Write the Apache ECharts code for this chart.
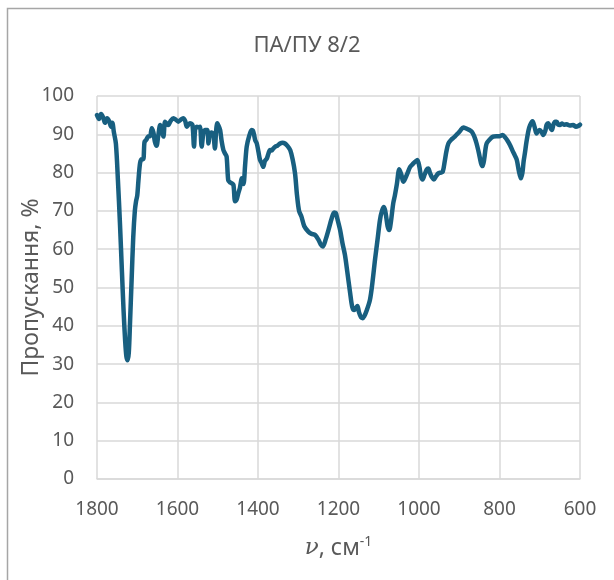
<!DOCTYPE html>
<html>
<head>
<meta charset="utf-8">
<script src="https://cdn.jsdelivr.net/npm/echarts@6/dist/echarts.min.js"></script>
<style>
  html, body { margin: 0; padding: 0; background: #fff; }
  #chart { width: 614px; height: 580px; }
</style>
</head>
<body>
<div id="chart"></div>
<script>
// IR spectrum of the ПА/ПУ 8/2 blend: wavenumber (cm^-1) and transmittance (%)
const wavenumber = [
  1800, 1795, 1790, 1785, 1780, 1775, 1770, 1765, 1762, 1758, 1753, 1748, 1743, 1738, 1734, 1730,
  1727, 1724, 1721, 1718, 1714, 1710, 1706, 1703, 1700, 1697, 1693, 1689, 1685, 1682, 1678, 1672,
  1668, 1664, 1660, 1656, 1652, 1648, 1643, 1639, 1635, 1631, 1627, 1623, 1617, 1610, 1604, 1598,
  1592, 1586, 1581, 1577, 1573, 1569, 1563, 1559, 1556, 1552, 1547, 1544, 1540, 1536, 1532, 1526,
  1523, 1520, 1515, 1511, 1507, 1504, 1501, 1497, 1494, 1490, 1486, 1482, 1478, 1474, 1470, 1465,
  1461, 1457, 1453, 1449, 1445, 1440, 1436, 1432, 1428, 1422, 1416, 1413, 1410, 1407, 1403, 1399,
  1395, 1391, 1387, 1383, 1378, 1374, 1370, 1366, 1362, 1357, 1352, 1345, 1339, 1333, 1327, 1320,
  1314, 1308, 1303, 1298, 1292, 1285, 1275, 1267, 1258, 1250, 1244, 1239, 1232, 1225, 1217, 1211,
  1207, 1203, 1196, 1190, 1184, 1178, 1171, 1166, 1161, 1157, 1153, 1149, 1144, 1140, 1136, 1130,
  1122, 1116, 1109, 1103, 1097, 1092, 1087, 1083, 1078, 1074, 1070, 1064, 1060, 1055, 1049, 1044,
  1039, 1034, 1028, 1022, 1014, 1008, 1004, 999, 995, 991, 986, 981, 977, 973, 968, 963,
  958, 952, 946, 941, 936, 932, 927, 920, 911, 903, 897, 890, 882, 876, 869, 863,
  857, 851, 846, 842, 838, 835, 832, 825, 816, 808, 800, 792, 786, 780, 774, 768,
  762, 757, 752, 747, 743, 740, 737, 733, 728, 724, 718, 713, 708, 704, 700, 695,
  691, 686, 683, 679, 675, 670, 666, 662, 658, 654, 650, 645, 640, 633, 625, 617,
  610, 604, 600
];
const transmittance = [
  95.0, 94.0, 95.3, 94.5, 93.0, 94.2, 93.5, 92.0, 93.0, 90.5, 87.5, 78.0, 66.8, 54.0, 44.0, 36.0,
  32.0, 31.0, 33.0, 40.7, 52.0, 63.0, 70.0, 72.5, 74.0, 78.0, 82.5, 83.5, 83.5, 88.0, 88.5, 89.5,
  89.5, 91.6, 90.5, 88.0, 87.0, 89.5, 92.4, 91.0, 89.4, 93.3, 92.8, 92.4, 93.5, 94.2, 93.8, 93.3,
  93.8, 94.2, 93.5, 92.0, 92.5, 92.9, 92.5, 86.8, 91.5, 92.0, 91.8, 92.0, 86.8, 90.0, 91.1, 91.1,
  87.6, 90.0, 90.5, 90.0, 86.3, 91.0, 92.9, 92.0, 91.1, 88.0, 85.9, 85.0, 84.2, 78.0, 77.5, 77.2,
  76.8, 72.5, 73.0, 74.6, 76.0, 78.5, 77.0, 82.0, 86.8, 89.5, 91.1, 91.0, 90.0, 88.5, 87.6, 85.5,
  83.3, 82.5, 81.5, 83.0, 83.7, 85.0, 85.9, 85.8, 86.3, 86.8, 87.0, 87.6, 87.8, 87.6, 87.0, 85.9,
  83.5, 79.8, 74.0, 70.0, 68.5, 66.0, 64.6, 64.0, 63.7, 62.5, 61.2, 60.7, 62.5, 65.0, 68.0, 69.6,
  69.5, 68.0, 65.0, 61.5, 58.5, 54.0, 48.5, 45.0, 44.1, 44.6, 45.2, 43.5, 42.2, 42.0, 42.5, 44.0,
  46.7, 51.0, 57.5, 62.5, 67.6, 70.0, 71.0, 69.5, 66.0, 65.0, 67.0, 72.0, 74.0, 77.0, 80.9, 79.5,
  77.6, 78.5, 80.0, 81.5, 82.4, 83.0, 83.3, 81.5, 79.0, 78.2, 79.5, 80.8, 81.1, 80.0, 78.8, 78.2,
  79.0, 79.8, 80.0, 80.2, 83.0, 85.5, 87.6, 88.6, 89.4, 90.3, 91.0, 91.8, 91.5, 91.2, 90.7, 89.5,
  87.6, 85.0, 82.5, 81.7, 83.5, 86.0, 87.6, 88.6, 89.4, 89.5, 89.5, 89.8, 89.2, 88.3, 87.2, 85.8,
  84.5, 83.3, 80.5, 78.5, 80.0, 83.0, 85.0, 88.0, 91.0, 92.4, 93.4, 92.0, 90.2, 90.8, 91.1, 90.5,
  89.8, 91.0, 92.5, 92.9, 92.0, 91.1, 92.5, 93.3, 93.3, 92.5, 92.4, 92.8, 92.5, 92.6, 92.3, 92.4,
  92.0, 92.2, 92.5
];

const chartTitle = 'ПА/ПУ 8/2';
const yAxisTitle = 'Пропускання, %';

const points = wavenumber.map((w, i) => [w, transmittance[i]]);

const textColor = '#595959';
const gridColor = '#d9d9d9';
const fontFamily = '"Noto Sans", "Open Sans", sans-serif';

const chart = echarts.init(document.getElementById('chart'), null, { renderer: 'canvas' });
chart.setOption({
  backgroundColor: '#ffffff',
  animation: false,
  graphic: [{
    type: 'rect',
    shape: { x: 7.5, y: 8.5, width: 620, height: 590 },
    style: { fill: 'none', stroke: '#a6a6a6', lineWidth: 1.5 },
    silent: true,
    z: -1
  }],
  title: {
    text: chartTitle,
    left: 'center',
    top: 30,
    textStyle: { color: textColor, fontFamily, fontSize: 22, fontWeight: 'normal' }
  },
  grid: { left: 97, right: 34, top: 96, bottom: 101, containLabel: false },
  xAxis: {
    type: 'value',
    inverse: true,
    min: 600,
    max: 1800,
    interval: 200,
    name: '{i|ν}, см{s|-1}',
    nameLocation: 'middle',
    nameGap: 56,
    nameMoveOverlap: false,
    nameTextStyle: {
      color: textColor, fontFamily, fontSize: 23,
      rich: {
        i: { fontFamily: '"DejaVu Serif", serif', fontStyle: 'italic', fontSize: 23, color: textColor },
        s: { fontFamily, fontSize: 14, color: textColor, verticalAlign: 'top', padding: [0, 0, 12, 0] }
      }
    },
    axisLine: { show: true, lineStyle: { color: gridColor, width: 1.5 } },
    axisTick: { show: false },
    axisLabel: {
      color: textColor, fontFamily, fontSize: 19, margin: 21,
      formatter: (v) => String(v)
    },
    splitLine: { show: true, lineStyle: { color: gridColor, width: 1.5 } }
  },
  yAxis: {
    type: 'value',
    min: 0,
    max: 100,
    interval: 10,
    name: yAxisTitle,
    nameLocation: 'middle',
    nameGap: 54,
    nameMoveOverlap: false,
    nameTextStyle: { color: textColor, fontFamily, fontSize: 23 },
    axisLine: { show: false },
    axisTick: { show: false },
    axisLabel: {
      color: textColor, fontFamily, fontSize: 19, margin: 23,
      formatter: (v) => String(v)
    },
    splitLine: { show: true, lineStyle: { color: gridColor, width: 1.5 } }
  },
  series: [{
    type: 'line',
    data: points,
    showSymbol: false,
    smooth: 0.3,
    clip: false,
    lineStyle: { color: '#185f80', width: 4.5, join: 'round', cap: 'round' }
  }]
});
</script>
</body>
</html>
